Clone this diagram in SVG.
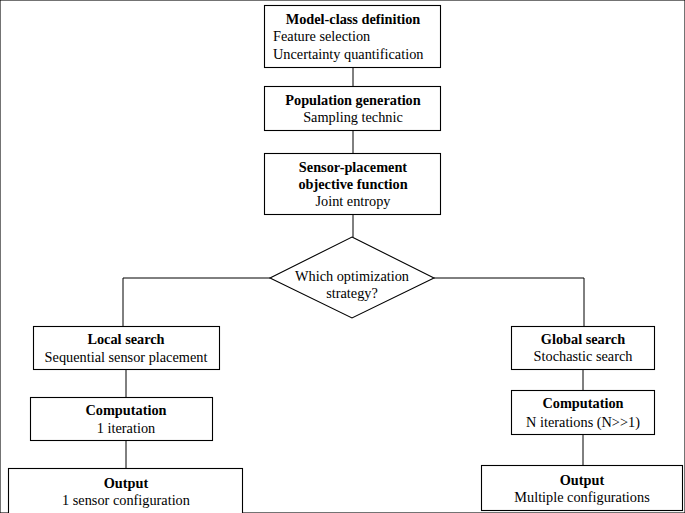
<svg xmlns="http://www.w3.org/2000/svg" width="685" height="513" viewBox="0 0 685 513">
<style>
rect, polygon { fill: #fff; stroke: #000; stroke-width: 1.1; }
.c { fill: none; stroke: #000; stroke-width: 1; }
text { font-family: "Liberation Serif", "Times New Roman", serif; font-size: 14.3px; fill: #000; text-anchor: middle; }
.b { font-weight: bold; }
.l { text-anchor: start; }
</style>
<rect width="685" height="513" fill="#fff" stroke="none"/>
<g id="connectors">
<path class="c" d="M353 67 V86"/>
<path class="c" d="M353 130 V153"/>
<path class="c" d="M353 214 V237"/>
<path class="c" d="M270 278 H123 V326"/>
<path class="c" d="M434 278 H584 V326"/>
<path class="c" d="M126 369 V397"/>
<path class="c" d="M126 441 V468"/>
<path class="c" d="M583 369 V390"/>
<path class="c" d="M583 434 V465"/>
</g>
<g id="model-class">
<rect x="264.5" y="5.5" width="176" height="62"/>
<text class="b" x="353" y="24">Model-class definition</text>
<text class="l" x="273" y="41">Feature selection</text>
<text class="l" x="273" y="59">Uncertainty quantification</text>
</g>
<g id="population">
<rect x="264.5" y="86.5" width="176" height="44"/>
<text class="b" x="353" y="105">Population generation</text>
<text x="353" y="122">Sampling technic</text>
</g>
<g id="objective">
<rect x="264.5" y="153.5" width="176" height="61"/>
<text class="b" x="353" y="172">Sensor-placement</text>
<text class="b" x="353" y="189">objective function</text>
<text x="353" y="206">Joint entropy</text>
</g>
<g id="decision">
<polygon points="352,237 434,278 352,318 270,278"/>
<text x="352" y="281">Which optimization</text>
<text x="352" y="298">strategy?</text>
</g>
<g id="local-search">
<rect x="33.5" y="326.5" width="186" height="43"/>
<text class="b" x="126" y="344">Local search</text>
<text x="126" y="362">Sequential sensor placement</text>
</g>
<g id="computation-local">
<rect x="30.5" y="397.5" width="182" height="43"/>
<text class="b" x="126" y="415">Computation</text>
<text x="126" y="433">1 iteration</text>
</g>
<g id="output-local">
<rect x="8.5" y="468.5" width="234" height="50"/>
<text class="b" x="126" y="488">Output</text>
<text x="126" y="505">1 sensor configuration</text>
</g>
<g id="global-search">
<rect x="511.5" y="326.5" width="143" height="43"/>
<text class="b" x="583" y="344">Global search</text>
<text x="583" y="361">Stochastic search</text>
</g>
<g id="computation-global">
<rect x="511.5" y="390.5" width="143" height="44"/>
<text class="b" x="583" y="408">Computation</text>
<text x="583" y="427">N iterations (N&gt;&gt;1)</text>
</g>
<g id="output-global">
<rect x="481.5" y="465.5" width="201" height="45"/>
<text class="b" x="582" y="485">Output</text>
<text x="582" y="502">Multiple configurations</text>
</g>
</svg>
